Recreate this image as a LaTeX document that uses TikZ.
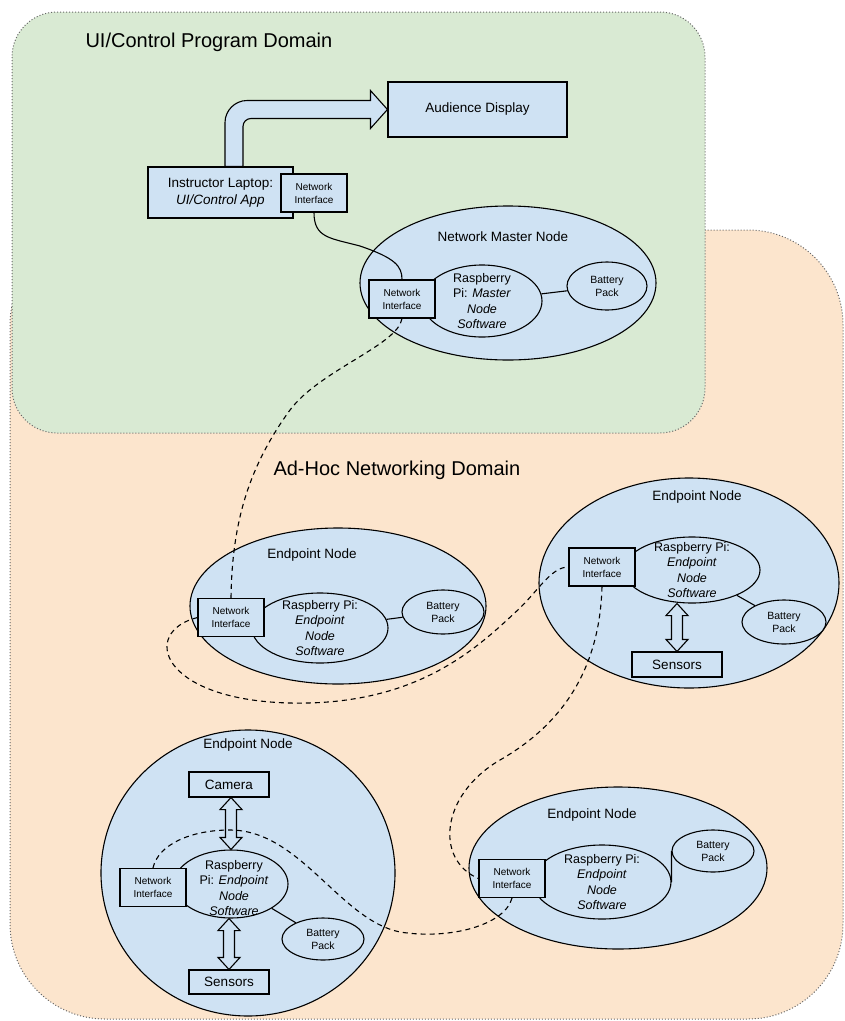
\documentclass[tikz,border=0pt]{standalone}
\usepackage{fontspec}
\setmainfont{Liberation Sans}
\usetikzlibrary{shapes.geometric, calc}

\definecolor{uigreen}{HTML}{D9EAD3}
\definecolor{adhoc}{HTML}{FCE5CD}
\definecolor{hwblue}{HTML}{CFE2F3}

\tikzstyle{dom} = [draw=black!60, line width=1pt, dash pattern=on 1pt off 2pt]
\tikzstyle{domtitle} = [font=\fontsize{20}{24}\selectfont, anchor=west]
\tikzstyle{ttl} = [font=\fontsize{13.5}{16}\selectfont]
\tikzstyle{hw} = [ellipse, draw=black, line width=1.1pt, fill=hwblue, inner sep=0pt]
\tikzstyle{rpi} = [hw]
\tikzstyle{pitxt} = [font=\fontsize{12.5}{15.5}\selectfont, align=center]
\tikzstyle{bat} = [hw, font=\fontsize{10.5}{13}\selectfont, align=center]
\tikzstyle{box} = [rectangle, draw=black, line width=1.1pt, fill=hwblue, inner sep=0pt, font=\fontsize{13.5}{17}\selectfont, align=center]
\tikzstyle{nic} = [box, minimum width=66pt, minimum height=38pt, font=\fontsize{10}{13}\selectfont]
\tikzstyle{link} = [line width=1.1pt]
\tikzstyle{radio} = [line width=1.1pt, dash pattern=on 5pt off 4pt]
\tikzstyle{hollow} = [draw=black, line width=1.1pt, fill=hwblue]

% hollow two-way arrow, top point first
\newcommand{\biarrow}[2]{%
  \draw[hollow] let \p1=(#1), \p2=(#2) in
    (\x2,\y1) -- (\x2+11pt,\y1-12pt) -- (\x2+5.5pt,\y1-12pt) -- (\x2+5.5pt,\y2+12pt) -- (\x2+11pt,\y2+12pt) -- (\x2,\y2)
    -- (\x2-11pt,\y2+12pt) -- (\x2-5.5pt,\y2+12pt) -- (\x2-5.5pt,\y1-12pt) -- (\x2-11pt,\y1-12pt) -- cycle;}

\begin{document}
\begin{tikzpicture}[x=1pt, y=1pt]
\useasboundingbox (0,0) rectangle (845,-1021);

% Drawing domains
\draw [dom, fill=adhoc, rounded corners=95pt] (10,-230) rectangle (843,-1019);
\draw [dom, fill=uigreen, rounded corners=45pt] (12,-12) rectangle (705,-433);
\node (uititle) [domtitle] at (82,-42) {UI/Control Program Domain};
\node (adhoctitle) [domtitle] at (270,-470) {Ad-Hoc Networking Domain};

% Drawing nodes
\node (disp) [box, minimum width=179pt, minimum height=55pt] at (477.5,-109.5) {Audience Display};
\node (laptop) [box, minimum width=145pt, minimum height=51pt] at (220.5,-192.5) {Instructor Laptop:\\\textit{UI/Control App}};
\node (lapni) [nic] at (314,-193) {Network\\Interface};

\node (master) [hw, minimum width=296pt, minimum height=154pt] at (508,-283) {};
\node (mastert) [ttl] at (503,-237) {Network Master Node};
\node (mpi) [rpi, minimum width=120pt, minimum height=72pt, label={[pitxt]center:Raspberry\\Pi: \textit{Master}\\\textit{Node}\\\textit{Software}}] at (482,-301) {};
\node (mni) [nic] at (402,-299) {Network\\Interface};
\node (mbat) [bat, minimum width=80pt, minimum height=48pt] at (607,-286) {Battery\\Pack};

\node (ep1) [hw, minimum width=296pt, minimum height=156pt] at (338,-606) {};
\node (ep1t) [ttl] at (312,-555) {Endpoint Node};
\node (pi1) [rpi, minimum width=136pt, minimum height=70pt, label={[pitxt]center:Raspberry Pi:\\\textit{Endpoint}\\\textit{Node}\\\textit{Software}}] at (320,-628) {};
\node (ni1) [nic] at (231,-617.5) {Network\\Interface};
\node (bat1) [bat, minimum width=82pt, minimum height=44pt] at (443,-612) {Battery\\Pack};

\node (ep2) [hw, minimum width=300pt, minimum height=210pt] at (689,-583) {};
\node (ep2t) [ttl] at (697,-497) {Endpoint Node};
\node (pi2) [rpi, minimum width=136pt, minimum height=66pt, label={[pitxt]center:Raspberry Pi:\\\textit{Endpoint}\\\textit{Node}\\\textit{Software}}] at (692,-570) {};
\node (ni2) [nic] at (602,-567) {Network\\Interface};
\node (bat2) [bat, minimum width=84pt, minimum height=44pt] at (784,-622) {Battery\\Pack};
\node (sens2) [box, minimum width=90pt, minimum height=25pt] at (677,-664.5) {Sensors};

\node (ep3) [hw, minimum width=294pt, minimum height=286pt] at (248,-873) {};
\node (ep3t) [ttl] at (248,-745) {Endpoint Node};
\node (cam3) [box, minimum width=80pt, minimum height=25pt] at (229,-784.5) {Camera};
\node (pi3) [rpi, minimum width=114pt, minimum height=68pt, label={[pitxt, xshift=3pt, yshift=-4pt]center:Raspberry\\Pi: \textit{Endpoint}\\\textit{Node}\\\textit{Software}}] at (231,-884) {};
\node (ni3) [nic] at (153,-887.5) {Network\\Interface};
\node (bat3) [bat, minimum width=82pt, minimum height=42pt] at (323,-939) {Battery\\Pack};
\node (sens3) [box, minimum width=80pt, minimum height=24pt] at (229,-982) {Sensors};

\node (ep4) [hw, minimum width=298pt, minimum height=162pt] at (618,-868) {};
\node (ep4t) [ttl] at (592,-815) {Endpoint Node};
\node (pi4) [rpi, minimum width=138pt, minimum height=74pt, label={[pitxt]center:Raspberry Pi:\\\textit{Endpoint}\\\textit{Node}\\\textit{Software}}] at (602,-882) {};
\node (ni4) [nic] at (512,-878.5) {Network\\Interface};
\node (bat4) [bat, minimum width=82pt, minimum height=42pt] at (713,-851) {Battery\\Pack};

% Drawing arrows
\draw [hollow] let \p1=(laptop.north), \p2=(disp.west) in
  (\x1+4.5pt,\y1) -- (\x1+4.5pt,\y2-13pt) .. controls (\x1+4.5pt,\y2-1pt) and (\x1+14.5pt,\y2+9pt) .. (\x1+26.5pt,\y2+9pt)
  -- (\x2-17pt,\y2+9pt) -- (\x2-17pt,\y2+19pt) -- (\x2,\y2) -- (\x2-17pt,\y2-19pt) -- (\x2-17pt,\y2-9pt)
  -- (\x1+30.5pt,\y2-9pt) .. controls (\x1+26pt,\y2-9pt) and (\x1+22.5pt,\y2-12.5pt) .. (\x1+22.5pt,\y2-17pt) -- (\x1+22.5pt,\y1) -- cycle;
\biarrow{pi2.south}{sens2.north}
\biarrow{cam3.south}{pi3.north}
\biarrow{pi3.south}{sens3.north}

% Drawing links
\draw [link] (mpi) -- (mbat);
\draw [link] (pi1) -- (bat1);
\draw [link] (pi2) -- (bat2);
\draw [link] (pi3) -- (bat3);
\draw [link] (pi4.east) -- (bat4.west);
\draw [link] (lapni.south) .. controls (314,-238) and (330,-238) .. (360,-246) .. controls (395,-258) and (402,-266) .. (mni.north);

% Drawing radio hops
\draw [radio] (mni.south) .. controls (398,-345) and (320,-370) .. (290,-410) .. controls (250,-465) and (232,-520) .. (ni1.north);
\draw [radio] (ni1.west) .. controls (140,-632) and (160,-700) .. (290,-703) .. controls (420,-706) and (480,-645) .. (520,-608) .. controls (540,-588) and (552,-567) .. (ni2.west);
\draw [radio] (ni2.south) .. controls (600,-660) and (570,-720) .. (500,-760) .. controls (440,-795) and (435,-860) .. (ni4.west);
\draw [radio] (ni4.south) .. controls (505,-925) and (450,-940) .. (400,-932) .. controls (340,-920) and (300,-830) .. (230,-830) .. controls (190,-830) and (158,-845) .. (ni3.north);
\end{tikzpicture}
\end{document}
